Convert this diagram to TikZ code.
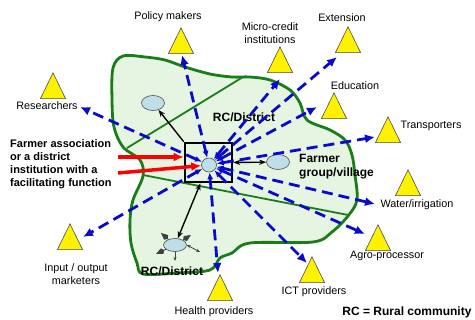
\documentclass[tikz,border=0pt]{standalone}
\usepackage{fontspec}
\setmainfont{Liberation Sans}
\usetikzlibrary{shapes.geometric,arrows.meta}

\definecolor{linkblue}{RGB}{10,10,205}
\definecolor{blobgreen}{RGB}{25,125,25}
\definecolor{blobfill}{RGB}{230,245,225}
\definecolor{placeblue}{RGB}{190,222,232}

\tikzset{
  actor/.style={regular polygon, regular polygon sides=3, minimum size=29pt, inner sep=0pt,
    yscale=1.18, transform shape, draw=black!70, fill=yellow, line width=0.6pt},
  lbl/.style={font=\fontsize{10.8}{12.8}\selectfont, inner sep=0pt, align=center},
  boldlbl/.style={font=\fontsize{12}{14}\selectfont\bfseries, inner sep=0pt, align=left},
  link/.style={linkblue, line width=2.8pt, dash pattern=on 11pt off 6pt,
    {Latex[length=7pt,width=6pt]}-{Latex[length=10pt,width=9pt]}},
  place/.style={ellipse, draw=black!70, fill=placeblue, line width=0.6pt,
    minimum width=23pt, minimum height=15pt, inner sep=0pt},
  tie/.style={black, line width=1.4pt, {Stealth[length=7pt]}-{Stealth[length=7pt]}},
  push/.style={red, line width=3.5pt, -{Latex[length=10pt,width=9pt]}},
  spike/.style={black!75, line width=0.8pt, -{Kite[length=9pt,width=6pt]}},
}

\begin{document}
\begin{tikzpicture}[x=1pt, y=-1pt]
    \useasboundingbox (0,0) rectangle (475,320);
    % rural area
    \filldraw[draw=blobgreen, fill=blobfill, line width=2.8pt]
        plot[smooth cycle, tension=0.55] coordinates {
        (113,68) (123,56) (145,57) (165,60) (185,67) (210,74) (232,77) (250,77)
        (270,80) (290,90) (300,103) (307,120) (330,130) (345,140) (352,155)
        (355,175) (357,200) (348,216) (332,232) (313,242) (250,243) (232,253)
        (220,258) (210,270) (177,273) (143,274) (137,263) (131,243) (130,220)
        (133,200) (143,176) (140,160) (123,147) (114,127) (112,100)};
    \draw[blobgreen, line width=1.8pt] (127,148) -- (243,77);
    \draw[blobgreen, line width=1.8pt] (143,175) -- (348,215);

    % facilitator
    \node[draw, line width=2.6pt, minimum width=47pt, minimum height=39pt, inner sep=0pt] (box) at (208.5,162.5) {};
    \node[place, minimum width=15pt, minimum height=14pt] (hub) at (209,165) {};
    \node[place] (rc1) at (153,103) {};
    \node[place] (village) at (278,162) {};
    \node[place, minimum height=13pt] (rc2) at (175,245) {};

    % stakeholders
    \node[actor] (researchers) at (53,90) {};
    \node[actor] (policy) at (181,45) {};
    \node[actor] (credit) at (280,64) {};
    \node[actor] (extension) at (348,44) {};
    \node[actor] (education) at (334,110) {};
    \node[actor] (transport) at (388,134) {};
    \node[actor] (water) at (408,187) {};
    \node[actor] (agro) at (378,242) {};
    \node[actor] (ict) at (312,274) {};
    \node[actor] (health) at (220,292) {};
    \node[actor] (input) at (70,241) {};

    \node[lbl] (researchersLbl) at (47,106) {Researchers};
    \node[lbl] (policyLbl) at (168,17) {Policy makers};
    \node[lbl] (creditLbl) at (270,33) {Micro-credit\\institutions};
    \node[lbl] (extensionLbl) at (342,18) {Extension};
    \node[lbl] (educationLbl) at (355,86) {Education};
    \node[lbl] (transportLbl) at (431,126) {Transporters};
    \node[lbl] (waterLbl) at (417,205) {Water/irrigation};
    \node[lbl] (agroLbl) at (387,256) {Agro-processor};
    \node[lbl] (ictLbl) at (314,292) {ICT providers};
    \node[lbl] (healthLbl) at (214,312) {Health providers};
    \node[lbl] (inputLbl) at (76,274) {Input / output\\marketers};

    \node[boldlbl] (rc1Lbl) at (244,117) {RC/District};
    \node[boldlbl, anchor=west] (villageLbl) at (299,167) {Farmer\\group/village};
    \node[boldlbl] (rc2Lbl) at (172,271) {RC/District};
    \node[boldlbl, font=\fontsize{11}{13}\selectfont\bfseries, anchor=west] (faciLbl) at (10,164)
        {Farmer association\\or a district\\institution with a\\facilitating function};
    \node[boldlbl] (keyLbl) at (407,312) {RC = Rural community};

    % links to stakeholders
    \coordinate (tRes) at (80,107);
    \coordinate (tPol) at (182,55);
    \coordinate (tCred) at (280,79);
    \coordinate (tExt) at (337,57);
    \coordinate (tEdu) at (317,107);
    \coordinate (tTra) at (375,137);
    \coordinate (tWat) at (375,204);
    \coordinate (tAgr) at (365,234);
    \coordinate (tIct) at (307,263);
    \coordinate (tHea) at (218,273);
    \coordinate (tInp) at (83,237);
    \draw[link] (hub) -- (tRes);
    \draw[link] (hub) -- (tPol);
    \draw[link] (hub) -- (tCred);
    \draw[link] (hub) -- (tExt);
    \draw[link] (hub) -- (tEdu);
    \draw[link] (hub) -- (tTra);
    \draw[link] (hub) -- (tWat);
    \draw[link] (hub) -- (tAgr);
    \draw[link] (hub) -- (tIct);
    \draw[link] (hub) -- (tHea);
    \draw[link] (hub) -- (tInp);

    % facilitator to communities
    \draw[black, line width=1.4pt, -{Stealth[length=7pt]}] (box.north west) -- (rc1);
    \draw[tie] (box.east) -- (village);
    \draw[tie] ([xshift=-8pt]box.south) -- (rc2);

    % facilitating function
    \coordinate (r1) at (118,157);
    \coordinate (r2) at (118,173);
    \draw[push] (r1) -- (r1 -| box.west);
    \draw[push] (r2) -- (hub);

    % lower community spread
    \draw[spike] (rc2) -- (161,233);
    \draw[spike] (rc2) -- (191,235);
    \draw[spike] (rc2) -- (156,254);
    \draw[black!75, line width=0.8pt, -{Stealth[length=4pt]}] (rc2) -- (175,261);
    \draw[black!75, line width=0.8pt, {Stealth[length=4pt]}-{Stealth[length=4pt]}] (rc2.east) -- (200,252);
\end{tikzpicture}
\end{document}
